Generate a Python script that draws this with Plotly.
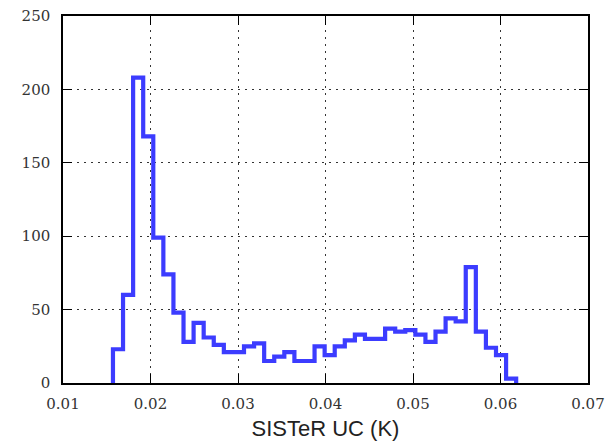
import numpy as np
import plotly.graph_objects as go

# Histogram of SISTeR UC (K): 40 bins
bin_start = 0.01571
bin_width = 0.001152
counts = [23, 60, 208, 168, 99, 74, 48, 28, 41, 31,
          26, 21, 21, 25, 27, 15, 18, 21, 15, 15,
          25, 19, 25, 29, 33, 30, 30, 37, 35, 36,
          33, 28, 35, 44, 42, 79, 35, 24, 19, 3]
x_ticks = [0.01, 0.02, 0.03, 0.04, 0.05, 0.06, 0.07]
y_ticks = [0, 50, 100, 150, 200, 250]
x_title = "SISTeR UC (K)"

edges = bin_start + bin_width * np.arange(len(counts) + 1)
xs = [edges[0]] + list(edges[:-1]) + [edges[-1]]
ys = [0] + counts + [0]

fig = go.Figure()
fig.add_trace(go.Scatter(x=xs, y=ys, mode="lines", line_shape="hv",
                         line=dict(color="#3c3cff", width=4.2),
                         hoverinfo="skip", showlegend=False))

tickfont = dict(family="DejaVu Serif, Liberation Serif, serif", size=15, color="#333333")
common = dict(showline=True, linecolor="black", linewidth=1.5, mirror="ticks",
              ticks="inside", ticklen=9, tickwidth=1.2, tickcolor="black",
              showgrid=True, gridcolor="#333333", gridwidth=1, griddash="2px,5px",
              zeroline=False, tickfont=tickfont, automargin=False)

fig.update_xaxes(range=[0.01, 0.07], tickvals=x_ticks,
                 ticktext=[f"{v:.2f}" for v in x_ticks],
                 title=dict(text=x_title, font=dict(family="Liberation Sans", size=22, color="#222222"),
                            standoff=9),
                 ticklabelstandoff=6, ticklabeloverflow="allow", **common)
fig.update_yaxes(range=[0, 250], tickvals=y_ticks,
                 ticktext=[str(v) for v in y_ticks],
                 ticklabelstandoff=8, ticklabeloverflow="allow", **common)

fig.update_layout(width=605, height=444, margin=dict(l=63, r=17, t=16, b=61),
                  plot_bgcolor="white", paper_bgcolor="white")
fig.write_html("out.html", config={"displayModeBar": False},
               post_script="document.body.style.margin='0';document.body.style.overflow='hidden';")
